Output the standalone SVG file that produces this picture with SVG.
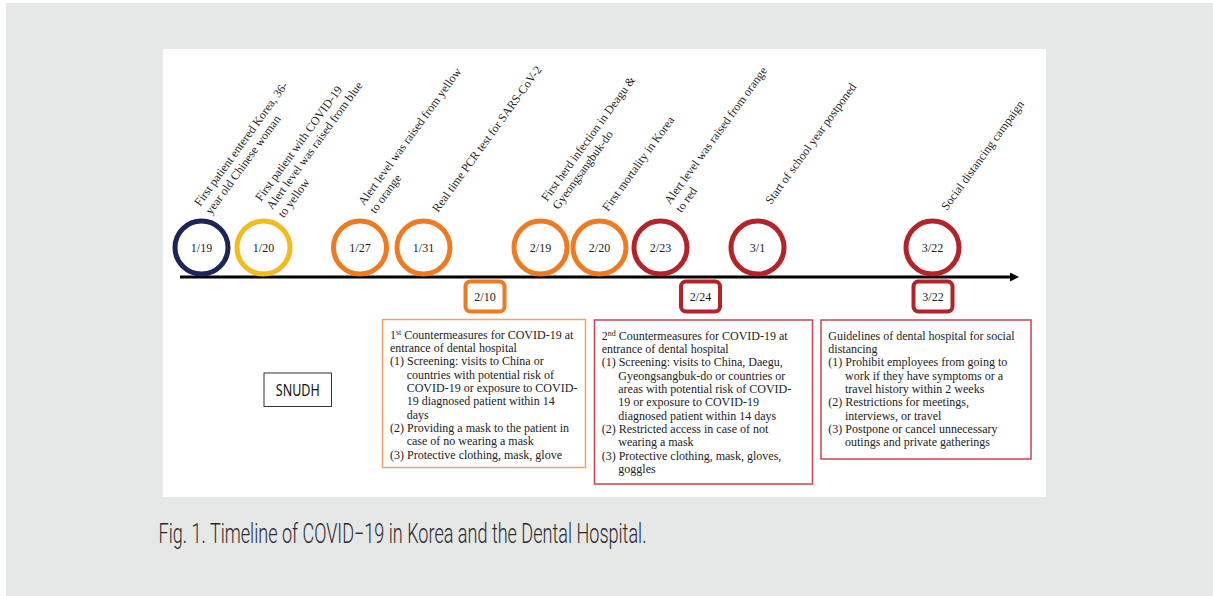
<svg xmlns="http://www.w3.org/2000/svg" width="1213" height="596" viewBox="0 0 1213 596">
<style>
.t{font-family:"Liberation Serif","Times New Roman",serif;font-size:12px;fill:#222}
.d{font-family:"Liberation Serif","Times New Roman",serif;font-size:12px;fill:#222;text-anchor:middle}
.c{fill:none;stroke-width:5}
.sq{fill:#fff;stroke-width:4}
.box{fill:#fff;stroke-width:1.5}
</style>
<defs>
<marker id="arr" markerUnits="userSpaceOnUse" markerWidth="10" markerHeight="10" refX="1" refY="4.5" orient="auto">
<path d="M0,0 L9,4.5 L0,9 z" fill="#000"/>
</marker>
</defs>
<rect x="0" y="0" width="1213" height="596" fill="#fff"/>
<rect x="6" y="3" width="1207" height="593" fill="#e6e7e7"/>
<rect x="163" y="49" width="883" height="448" fill="#fff"/>

<g id="connectors">
<line x1="180" y1="277" x2="1011" y2="277" stroke="#000" stroke-width="3" marker-end="url(#arr)"/>
</g>

<g id="n-0119">
<circle class="c" cx="201.5" cy="247.5" r="26.5" stroke="#1c2556"/>
<text class="d" x="201.5" y="251.5">1/19</text>
<text class="t" transform="translate(200,207) rotate(-54)"><tspan x="0" y="0">First patient entered Korea, 36-</tspan><tspan x="0" y="14">year old Chinese woman</tspan></text>
</g>
<g id="n-0120">
<circle class="c" cx="263.5" cy="247.5" r="26.5" stroke="#f3bb1f"/>
<text class="d" x="263.5" y="251.5">1/20</text>
<text class="t" transform="translate(261,202) rotate(-54)"><tspan x="0" y="0">First patient with COVID-19</tspan><tspan x="0" y="14">Alert level was raised from blue</tspan><tspan x="0" y="28">to yellow</tspan></text>
</g>
<g id="n-0127">
<circle class="c" cx="360" cy="247.5" r="26.5" stroke="#ee7b22"/>
<text class="d" x="360" y="251.5">1/27</text>
<text class="t" transform="translate(364,206) rotate(-54)"><tspan x="0" y="0">Alert level was raised from yellow</tspan><tspan x="0" y="14">to orange</tspan></text>
</g>
<g id="n-0131">
<circle class="c" cx="423.5" cy="247.5" r="26.5" stroke="#ee7b22"/>
<text class="d" x="423.5" y="251.5">1/31</text>
<text class="t" transform="translate(438,213) rotate(-54)">Real time PCR test for SARS-CoV-2</text>
</g>
<g id="n-0219">
<circle class="c" cx="540.5" cy="247.5" r="26.5" stroke="#ee7b22"/>
<text class="d" x="540.5" y="251.5">2/19</text>
<text class="t" transform="translate(547,202) rotate(-54)"><tspan x="0" y="0">First herd infection in Deagu &amp;</tspan><tspan x="0" y="14">Gyeongsangbuk-do</tspan></text>
</g>
<g id="n-0220">
<circle class="c" cx="599.5" cy="247.5" r="26.5" stroke="#ee7b22"/>
<text class="d" x="599.5" y="251.5">2/20</text>
<text class="t" transform="translate(608,212) rotate(-54)">First mortality in Korea</text>
</g>
<g id="n-0223">
<circle class="c" cx="660.5" cy="247.5" r="26.5" stroke="#b3232a"/>
<text class="d" x="660.5" y="251.5">2/23</text>
<text class="t" transform="translate(670,205) rotate(-54)"><tspan x="0" y="0">Alert level was raised from orange</tspan><tspan x="0" y="14">to red</tspan></text>
</g>
<g id="n-0301">
<circle class="c" cx="757.5" cy="247.5" r="26.5" stroke="#b3232a"/>
<text class="d" x="757.5" y="251.5">3/1</text>
<text class="t" transform="translate(771,205) rotate(-54)">Start of school year postponed</text>
</g>
<g id="n-0322">
<circle class="c" cx="932.5" cy="247.5" r="26.5" stroke="#b3232a"/>
<text class="d" x="932.5" y="251.5">3/22</text>
<text class="t" transform="translate(947,211) rotate(-54)">Social distancing campaign</text>
</g>

<g id="h-0210">
<rect class="sq" x="465.5" y="281.5" width="39" height="30" rx="5" stroke="#ee7b22"/>
<text class="d" x="485" y="300.5">2/10</text>
</g>
<g id="h-0224">
<rect class="sq" x="681" y="281.5" width="39" height="30" rx="5" stroke="#b3232a"/>
<text class="d" x="700.5" y="300.5">2/24</text>
</g>
<g id="h-0322">
<rect class="sq" x="913.5" y="281.5" width="39" height="30" rx="5" stroke="#b3232a"/>
<text class="d" x="933" y="300.5">3/22</text>
</g>

<g id="box1">
<rect class="box" x="382.5" y="319.5" width="203" height="148" stroke="#f2a365"/>
<text class="t">
<tspan x="390" y="338.5">1<tspan font-size="8" dy="-4">st</tspan><tspan dy="4"> Countermeasures for COVID-19 at</tspan></tspan>
<tspan x="390" y="351.8">entrance of dental hospital</tspan>
<tspan x="390" y="365.2">(1) Screening: visits to China or</tspan>
<tspan x="406.7" y="378.5">countries with potential risk of</tspan>
<tspan x="406.7" y="391.8">COVID-19 or exposure to COVID-</tspan>
<tspan x="406.7" y="405.2">19 diagnosed patient within 14</tspan>
<tspan x="406.7" y="418.5">days</tspan>
<tspan x="390" y="431.8">(2)  Providing a mask to the patient in</tspan>
<tspan x="406.7" y="445.2">case of no wearing a mask</tspan>
<tspan x="390" y="458.5">(3) Protective clothing, mask, glove</tspan>
</text>
</g>

<g id="box2">
<rect class="box" x="594.5" y="320" width="218" height="164" stroke="#c6454d"/>
<text class="t">
<tspan x="601.7" y="339.5">2<tspan font-size="8" dy="-4">nd</tspan><tspan dy="4"> Countermeasures for COVID-19  at</tspan></tspan>
<tspan x="601.7" y="352.8">entrance of dental hospital</tspan>
<tspan x="601.7" y="366.2">(1) Screening: visits to China, Daegu,</tspan>
<tspan x="618.3" y="379.5">Gyeongsangbuk-do or countries  or</tspan>
<tspan x="618.3" y="392.8">areas with potential risk of COVID-</tspan>
<tspan x="618.3" y="406.2">19 or exposure to COVID-19</tspan>
<tspan x="618.3" y="419.5">diagnosed patient within 14 days</tspan>
<tspan x="601.7" y="432.8">(2)  Restricted access in case of not</tspan>
<tspan x="618.3" y="446.2">wearing a mask</tspan>
<tspan x="601.7" y="459.5">(3) Protective clothing, mask, gloves,</tspan>
<tspan x="618.3" y="472.8">goggles</tspan>
</text>
</g>

<g id="box3">
<rect class="box" x="821" y="320" width="210" height="139" stroke="#c6454d"/>
<text class="t">
<tspan x="828.3" y="339.5">Guidelines of dental hospital for social</tspan>
<tspan x="828.3" y="352.8">distancing</tspan>
<tspan x="828.3" y="366.2">(1) Prohibit employees from going to</tspan>
<tspan x="845" y="379.5">work if they have symptoms or a</tspan>
<tspan x="845" y="392.8">travel history within 2 weeks</tspan>
<tspan x="828.3" y="406.2">(2) Restrictions for meetings,</tspan>
<tspan x="845" y="419.5">interviews, or travel</tspan>
<tspan x="828.3" y="432.8">(3) Postpone or cancel unnecessary</tspan>
<tspan x="845" y="446.2">outings and private gatherings</tspan>
</text>
</g>

<g id="snudh">
<rect x="264" y="373" width="67.5" height="33.5" fill="#fff" stroke="#333" stroke-width="1"/>
<text x="297.8" y="396" text-anchor="middle" font-family="'Noto Sans','Open Sans',sans-serif" font-size="16" fill="#111" textLength="44" lengthAdjust="spacingAndGlyphs">SNUDH</text>
</g>

<text id="caption" x="158.5" y="543" font-family="Roboto,'Noto Sans',sans-serif" font-weight="300" font-size="27" fill="#2b2b2b" textLength="488" lengthAdjust="spacingAndGlyphs">Fig. 1. Timeline of COVID−19 in Korea and the Dental Hospital.</text>
</svg>
